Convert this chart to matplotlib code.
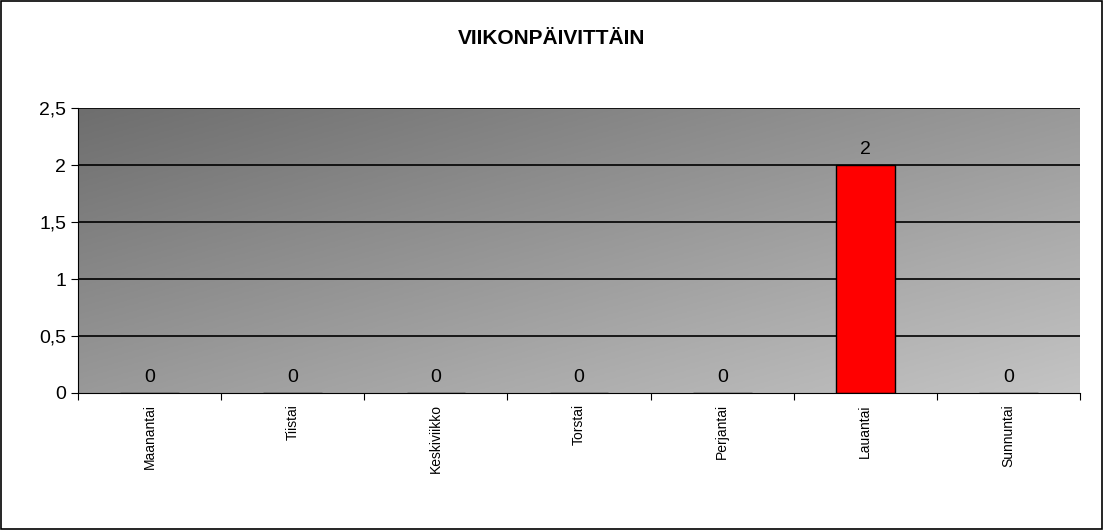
import matplotlib
matplotlib.use("Agg")
import matplotlib.pyplot as plt
import numpy as np

days = ["Maanantai", "Tiistai", "Keskiviikko", "Torstai", "Perjantai", "Lauantai", "Sunnuntai"]
counts = [0, 0, 0, 0, 0, 2, 0]
yticks = [0, 0.5, 1, 1.5, 2, 2.5]
ytick_labels = ["0", "0,5", "1", "1,5", "2", "2,5"]

plt.rcParams['font.family'] = ['Liberation Sans', 'DejaVu Sans']

fig = plt.figure(figsize=(11.04, 5.3), dpi=100)
fig.patches.append(plt.Rectangle((0.001, 0.002), 0.997, 0.996, transform=fig.transFigure,
                                 fill=False, edgecolor="black", linewidth=1.2))
ax = fig.add_axes([0.0707, 0.2585, 0.9076, 0.5377])

# diagonal gradient background, dark top-left to light bottom-right
n = 200
gx, gy = np.meshgrid(np.linspace(0, 1, n), np.linspace(0, 1, n))
grad = (gx * 0.5 + gy * 0.5)
ax.imshow(grad, extent=[-0.5, len(days) - 0.5, 0, 2.5], origin="upper", aspect="auto",
          cmap=plt.matplotlib.colors.LinearSegmentedColormap.from_list("g", ["#6e6e6e", "#c4c4c4"]),
          zorder=0)

ax.set_xlim(-0.5, len(days) - 0.5)
ax.set_ylim(0, 2.5)
for y in yticks[1:]:
    ax.axhline(y, color="black", linewidth=1.2, zorder=1)

x = np.arange(len(days))
bars = ax.bar(x, counts, width=0.41, color="#ff0000", edgecolor="black", linewidth=1, zorder=2)
for xi, v in zip(x, counts):
    ax.text(xi, v + 0.06, str(v), ha="center", va="bottom", fontsize=14, zorder=3)

ax.set_yticks(yticks)
ax.set_yticklabels(ytick_labels, fontsize=14)
ax.set_xticks(np.arange(-0.5, len(days), 1))
ax.set_xticklabels([])
ax.set_xticks(x, minor=True)
ax.set_xticklabels(days, minor=True, rotation=90, fontsize=10)
ax.tick_params(axis="x", which="minor", length=0, pad=8)
ax.tick_params(axis="x", which="major", length=5, direction="out")
ax.tick_params(axis="y", length=5)
for s in ["top", "right"]:
    ax.spines[s].set_visible(False)

fig.text(0.5, 0.928, "VIIKONPÄIVITTÄIN", ha="center", va="center", fontsize=15, fontweight="bold")

fig.savefig("out.png", dpi=100)
